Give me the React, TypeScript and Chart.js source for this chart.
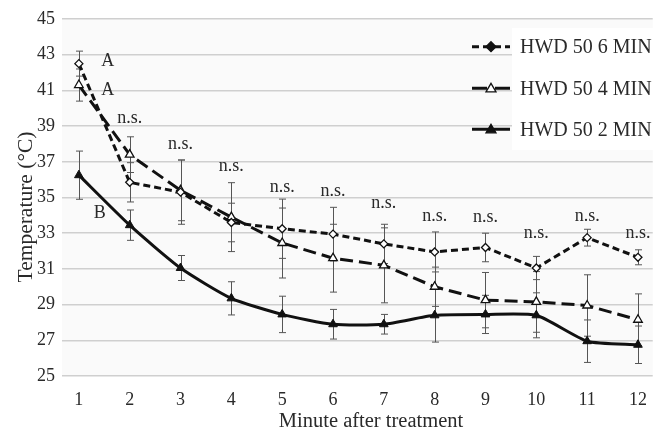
import React, { useEffect, useRef } from "react";
import { Chart, registerables } from "chart.js";

Chart.register(...registerables);

const categories = [1, 2, 3, 4, 5, 6, 7, 8, 9, 10, 11, 12];
const seriesNames = ["HWD 50 6 MIN", "HWD 50 4 MIN", "HWD 50 2 MIN"];
const values6 = [42.5, 35.85, 35.3, 33.6, 33.25, 32.95, 32.4, 31.95, 32.2, 31.05, 32.75, 31.65];
const values4 = [41.3, 37.4, 35.4, 33.9, 32.45, 31.6, 31.2, 30.0, 29.25, 29.15, 28.95, 28.15];
const values2 = [36.25, 33.45, 31.05, 29.35, 28.45, 27.9, 27.9, 28.4, 28.45, 28.4, 26.95, 26.75];
const err6 = [0.7, 1.1, 1.8, 1.08, 1.66, 1.5, 1.1, 1.12, 0.8, 0.65, 0.47, 0.42];
const err4 = [0.9, 1.0, 1.7, 1.93, 1.96, 1.9, 2.1, 1.1, 1.55, 1.7, 1.72, 1.45];
const err2 = [1.35, 0.85, 0.7, 0.93, 1.02, 0.83, 0.55, 1.5, 1.07, 1.26, 1.19, 1.05];
const yTicks = [25, 27, 29, 31, 33, 35, 37, 39, 41, 43, 45];
const nsX = [2, 3, 4, 5, 6, 7, 8, 9, 10, 11, 12];
const nsY = [39.46, 38.0, 36.73, 35.6, 35.35, 34.7, 33.95, 33.92, 33.02, 33.96, 32.99];
const letterText = ["A", "A", "B"];
const letterX = [1.57, 1.57, 1.41];
const letterY = [42.62, 40.99, 34.11];
const xTitle = "Minute after treatment";
const yTitle = "Temperature (°C)";

const FONT = "'Liberation Serif', 'Times New Roman', serif";
const TEXT_COLOR = "#2a2a2a";

function drawMarker(ctx: CanvasRenderingContext2D, kind: string, x: number, y: number, fill: string) {
  ctx.save();
  ctx.beginPath();
  const r = 5;
  if (kind === "diamond") {
    ctx.moveTo(x, y - r);
    ctx.lineTo(x + r, y);
    ctx.lineTo(x, y + r);
    ctx.lineTo(x - r, y);
  } else {
    ctx.moveTo(x, y - r);
    ctx.lineTo(x + r, y + r * 0.7);
    ctx.lineTo(x - r, y + r * 0.7);
  }
  ctx.closePath();
  ctx.fillStyle = fill;
  ctx.fill();
  ctx.lineWidth = 1.3;
  ctx.strokeStyle = "#111";
  ctx.stroke();
  ctx.restore();
}

const bgPlugin = {
  id: "bgPlugin",
  beforeDraw(chart: any) {
    const { ctx, chartArea } = chart;
    ctx.save();
    ctx.fillStyle = "#ffffff";
    ctx.fillRect(0, 0, chart.width, chart.height);
    ctx.fillStyle = "#fafafa";
    ctx.fillRect(chartArea.left, chartArea.top, chartArea.right - chartArea.left, chartArea.bottom - chartArea.top);
    ctx.restore();
  },
};

const errorPlugin = {
  id: "errorPlugin",
  beforeDatasetsDraw(chart: any) {
    const { ctx } = chart;
    const xs = chart.scales.x;
    const ys = chart.scales.y;
    const sets = [
      [values6, err6],
      [values4, err4],
      [values2, err2],
    ];
    ctx.save();
    ctx.strokeStyle = "#555";
    ctx.lineWidth = 1;
    sets.forEach(([vals, errs]) => {
      categories.forEach((c, i) => {
        const x = Math.round(xs.getPixelForValue(c)) + 0.5;
        const yt = ys.getPixelForValue(vals[i] + errs[i]);
        const yb = ys.getPixelForValue(vals[i] - errs[i]);
        ctx.beginPath();
        ctx.moveTo(x, yt);
        ctx.lineTo(x, yb);
        ctx.moveTo(x - 3.5, yt);
        ctx.lineTo(x + 3.5, yt);
        ctx.moveTo(x - 3.5, yb);
        ctx.lineTo(x + 3.5, yb);
        ctx.stroke();
      });
    });
    ctx.restore();
  },
};

const textPlugin = {
  id: "textPlugin",
  afterDraw(chart: any) {
    const { ctx } = chart;
    const xs = chart.scales.x;
    const ys = chart.scales.y;
    ctx.save();
    ctx.fillStyle = TEXT_COLOR;
    ctx.font = `18px ${FONT}`;
    ctx.textAlign = "center";
    ctx.textBaseline = "middle";
    nsX.forEach((c, i) => {
      ctx.fillText("n.s.", xs.getPixelForValue(c), ys.getPixelForValue(nsY[i]));
    });
    letterText.forEach((t, i) => {
      ctx.fillText(t, xs.getPixelForValue(letterX[i]), ys.getPixelForValue(letterY[i]));
    });

    // axis titles
    ctx.textBaseline = "alphabetic";
    ctx.font = `20.5px ${FONT}`;
    ctx.fillText(xTitle, 371, 427);
    ctx.save();
    ctx.translate(32, 207);
    ctx.rotate(-Math.PI / 2);
    ctx.font = `21.5px ${FONT}`;
    ctx.fillText(yTitle, 0, 0);
    ctx.restore();

    // legend
    ctx.fillStyle = "#ffffff";
    ctx.fillRect(512, 28, 147, 122);
    const rows = [46.7, 88.3, 129.3];
    const dashes = [[7, 4], [15, 8], []];
    const markers = ["diamond", "triangle", "triangle"];
    const fills = ["#111", "#ffffff", "#111"];
    rows.forEach((ry, i) => {
      ctx.save();
      ctx.strokeStyle = "#111";
      ctx.lineWidth = 3;
      ctx.setLineDash(dashes[i]);
      ctx.beginPath();
      ctx.moveTo(472, ry);
      ctx.lineTo(510, ry);
      ctx.stroke();
      ctx.restore();
      drawMarker(ctx, markers[i], 491, ry, fills[i]);
      ctx.fillStyle = TEXT_COLOR;
      ctx.font = `20px ${FONT}`;
      ctx.textAlign = "left";
      ctx.textBaseline = "middle";
      ctx.fillText(seriesNames[i], 520, ry + 1);
    });
    ctx.restore();
  },
};

export default function App() {
  const canvasRef = useRef<HTMLCanvasElement | null>(null);

  useEffect(() => {
    document.body.style.margin = "0";
    const canvas = canvasRef.current;
    if (!canvas) return;
    const toPts = (vals: number[]) => categories.map((c, i) => ({ x: c, y: vals[i] }));
    const chart = new Chart(canvas, {
      type: "line",
      data: {
        datasets: [
          {
            label: seriesNames[0],
            data: toPts(values6),
            borderColor: "#111",
            borderWidth: 3,
            borderDash: [7, 4],
            tension: 0,
            pointStyle: "rectRot",
            pointRadius: 4,
            pointBackgroundColor: "#ffffff",
            pointBorderColor: "#111",
            pointBorderWidth: 1.3,
          },
          {
            label: seriesNames[1],
            data: toPts(values4),
            borderColor: "#111",
            borderWidth: 3,
            borderDash: [13, 6],
            tension: 0,
            pointStyle: "triangle",
            pointRadius: 5,
            pointBackgroundColor: "#ffffff",
            pointBorderColor: "#111",
            pointBorderWidth: 1.3,
          },
          {
            label: seriesNames[2],
            data: toPts(values2),
            borderColor: "#111",
            borderWidth: 3,
            tension: 0.2,
            pointStyle: "triangle",
            pointRadius: 5,
            pointBackgroundColor: "#111",
            pointBorderColor: "#111",
            pointBorderWidth: 1,
          },
        ],
      },
      options: {
        responsive: false,
        animation: false,
        layout: { padding: { top: 19, right: 1, left: 0, bottom: 0 } },
        plugins: {
          legend: { display: false },
          tooltip: { enabled: false },
        },
        scales: {
          x: {
            type: "linear",
            min: 0.668,
            max: 12.29,
            grid: { display: false },
            border: { display: false },
            afterBuildTicks: (scale: any) => {
              scale.ticks = categories.map((v) => ({ value: v }));
            },
            afterFit: (scale: any) => {
              scale.height = 53;
            },
            ticks: {
              padding: 5,
              color: TEXT_COLOR,
              font: { family: FONT, size: 18 },
              maxRotation: 0,
              autoSkip: false,
              callback: (v: any) => String(v),
            },
            title: { display: false },
          },
          y: {
            min: 25,
            max: 45,
            afterBuildTicks: (scale: any) => {
              scale.ticks = yTicks.map((v) => ({ value: v }));
            },
            afterFit: (scale: any) => {
              scale.width = 62;
            },
            grid: { color: "#cfcfcf", lineWidth: 1.5, drawTicks: false },
            border: { display: false },
            ticks: {
              padding: 7,
              color: TEXT_COLOR,
              font: { family: FONT, size: 18 },
              callback: (v: any) => String(v),
            },
            title: { display: false },
          },
        },
      },
      plugins: [bgPlugin, errorPlugin, textPlugin],
    } as any);
    return () => chart.destroy();
  }, []);

  return (
    <div style={{ width: 659, height: 429 }}>
      <canvas ref={canvasRef} width={659} height={429} style={{ display: "block" }} />
    </div>
  );
}
